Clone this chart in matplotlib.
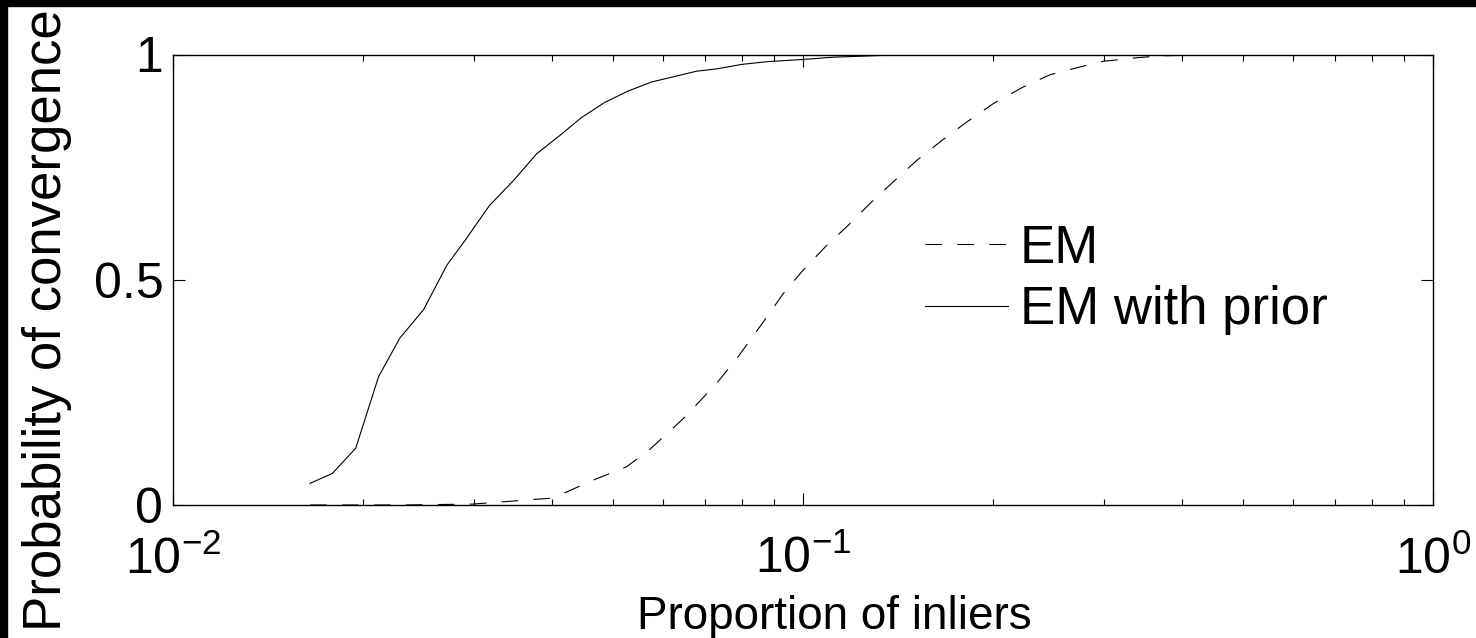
import matplotlib
matplotlib.use("Agg")
import matplotlib.pyplot as plt
from matplotlib.patches import Rectangle
from matplotlib.ticker import FixedLocator, LogLocator, NullFormatter

plt.rcParams["font.family"] = ["Liberation Sans", "DejaVu Sans"]
plt.rcParams["mathtext.fontset"] = "custom"
plt.rcParams["mathtext.rm"] = "Liberation Sans"
plt.rcParams["lines.scale_dashes"] = False

# =========================
# Data
# =========================
x_prior = [0.0165, 0.0179, 0.0195, 0.0212, 0.0229, 0.0250, 0.0272, 0.0291,
           0.0318, 0.0347, 0.0378, 0.0411, 0.0445, 0.0485, 0.0528, 0.0575,
           0.0678, 0.0729, 0.0799, 0.0876, 0.100, 0.1116, 0.134, 0.2, 0.3,
           0.5, 1.0]
y_prior = [0.048, 0.070, 0.126, 0.285, 0.370, 0.434, 0.532, 0.588,
           0.665, 0.720, 0.780, 0.820, 0.860, 0.894, 0.919, 0.939,
           0.963, 0.968, 0.978, 0.984, 0.989, 0.994, 0.998, 1.0, 1.0,
           1.0, 1.0]

x_em = [0.0165, 0.0232, 0.0299, 0.0397, 0.0417, 0.0464, 0.0525, 0.0572,
        0.0646, 0.0729, 0.0785, 0.0876, 0.0930, 0.100, 0.109, 0.118,
        0.1277, 0.139, 0.1516, 0.165, 0.1819, 0.2005, 0.2237, 0.2466,
        0.28, 0.30, 0.34, 0.37, 0.45, 1.0]
y_em = [0.0, 0.0, 0.002, 0.015, 0.026, 0.055, 0.085, 0.124,
        0.192, 0.270, 0.325, 0.417, 0.469, 0.521, 0.576, 0.621,
        0.669, 0.717, 0.765, 0.806, 0.850, 0.891, 0.928, 0.955,
        0.975, 0.985, 0.993, 0.997, 1.0, 1.0]

xtick_vals = [0.01, 0.1, 1.0]
xtick_labels = [r"$\mathregular{10^{-2}}$", r"$\mathregular{10^{-1}}$",
                r"$\mathregular{10^{0}}$"]
ytick_vals = [0, 0.5, 1]
ytick_labels = ["0", "0.5", "1"]

# =========================
# Plot
# =========================
fig = plt.figure(figsize=(14.76, 6.38), dpi=100)
ax = fig.add_axes([173 / 1476, 1 - 505 / 638, 1260 / 1476, 450.5 / 638])

ax.plot(x_em, y_em, color="black", lw=0.8, linestyle=(0, (12, 11)), label="EM")
ax.plot(x_prior, y_prior, color="black", lw=0.8, label="EM with prior")

ax.set_xscale("log")
ax.set_xlim(0.01, 1.0)
ax.set_ylim(0, 1)

ax.xaxis.set_major_locator(FixedLocator(xtick_vals))
ax.set_xticklabels(xtick_labels)
ax.xaxis.set_minor_locator(LogLocator(base=10, subs=range(2, 10)))
ax.xaxis.set_minor_formatter(NullFormatter())
ax.set_yticks(ytick_vals)
ax.set_yticklabels(ytick_labels)

ax.tick_params(which="both", direction="in", top=True, right=True, width=0.8)
ax.tick_params(which="major", length=8.6)
ax.tick_params(which="minor", length=4.3)
ax.tick_params(axis="x", which="major", pad=22, labelsize=36)
ax.tick_params(axis="y", which="major", pad=7, labelsize=36)
for sp in ax.spines.values():
    sp.set_linewidth(1.0)

ax.set_xlabel("Proportion of inliers", fontsize=33)
ax.xaxis.set_label_coords(0.5246, -0.2)
ax.set_ylabel("Probability of convergence", fontsize=38)
ax.yaxis.set_label_coords(-0.08, 0.41)

ax.legend(loc="upper left", bbox_to_anchor=(0.5968, 0.6244), frameon=False,
          fontsize=38, handlelength=1.57, handletextpad=0.23,
          labelspacing=0.22, borderpad=0, borderaxespad=0)

# black strips along top and left edges
fig.patches.append(Rectangle((0, 1 - 6 / 638), 1, 6 / 638,
                             transform=fig.transFigure, color="black", zorder=10))
fig.patches.append(Rectangle((0, 0), 7 / 1476, 1,
                             transform=fig.transFigure, color="black", zorder=10))

fig.savefig("out.png", dpi=100, facecolor="white")
